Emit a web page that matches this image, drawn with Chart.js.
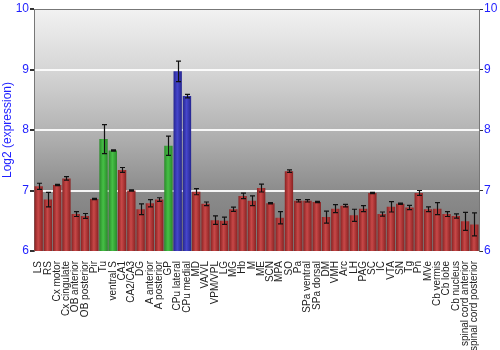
<!DOCTYPE html>
<html>
<head>
<meta charset="utf-8">
<script src="https://cdn.jsdelivr.net/npm/chart.js@4"></script>
<style>
  html, body { margin: 0; padding: 0; background: #fff; }
  #box { width: 500px; height: 350px; }
</style>
</head>
<body>
<div id="box"><canvas id="grafico"></canvas></div>
<script>
const regioes = ['LS','RS','Cx motor','Cx cingulate','OB anterior','OB posterior','Pir','Tu','ventral S','CA1',
  'CA2/CA3','DG','A anterior','A posterior','GP','CPu lateral','CPu medial','MD','VA/VL','VPM/VPL',
  'LG','MG','Hb','M','ME','SCN','MPA','SO','Pa','SPa ventral',
  'SPa dorsal','DM','VMH','Arc','LH','PAG','SC','IC','VTA','SN',
  'Tg','Pn','MVe','Cb vermis','Cb lobe','Cb nucleus','spinal cord anterior','spinal cord posterior'];
const medias = [7.07,6.85,7.09,7.20,6.61,6.58,6.86,7.85,7.66,7.34,
  7.00,6.69,6.79,6.85,7.74,8.97,8.56,6.98,6.78,6.51,
  6.50,6.69,6.91,6.83,7.04,6.79,6.55,7.32,6.83,6.83,
  6.81,6.56,6.70,6.75,6.59,6.70,6.96,6.61,6.73,6.78,
  6.72,6.96,6.69,6.70,6.61,6.58,6.49,6.44];
const erros = [0.05,0.12,0.01,0.03,0.04,0.04,0.01,0.24,0.01,0.04,
  0.01,0.09,0.06,0.03,0.16,0.17,0.03,0.05,0.03,0.07,
  0.06,0.035,0.045,0.08,0.065,0.01,0.10,0.02,0.02,0.02,
  0.01,0.10,0.065,0.02,0.10,0.05,0.01,0.035,0.085,0.01,
  0.035,0.04,0.04,0.10,0.04,0.035,0.15,0.19];
const verdes = ['Tu','ventral S','GP'];
const azuis = ['CPu lateral','CPu medial'];
const ticksY = [6,7,8,9,10];

const azulTexto = '#1f1fff';
const fonte = '"Liberation Sans", Arial, sans-serif';

function coresBarra(nome) {
  if (verdes.includes(nome)) return ['#2a8a2a', '#46c046'];
  if (azuis.includes(nome)) return ['#26268f', '#4646cc'];
  return ['#8a2222', '#c84848'];
}

function corBarra(ctx) {
  const chart = ctx.chart;
  const par = coresBarra(regioes[ctx.dataIndex]);
  if (!chart.chartArea || !chart.scales.x) return par[1];
  const xs = chart.scales.x;
  const x = xs.getPixelForValue(ctx.dataIndex);
  const w = xs.width / regioes.length * 0.9;
  const g = chart.ctx.createLinearGradient(x - w / 2, 0, x + w / 2, 0);
  g.addColorStop(0, par[0]);
  g.addColorStop(0.45, par[1]);
  g.addColorStop(1, par[0]);
  return g;
}

// fundo em degradê da área do gráfico
const fundo = {
  id: 'fundo',
  beforeDraw(chart) {
    const { ctx, chartArea: a } = chart;
    const g = ctx.createLinearGradient(0, a.top, 0, a.bottom);
    g.addColorStop(0, '#f2f2f2');
    g.addColorStop(0.25, '#d6d6d6');
    g.addColorStop(0.5, '#b4b4b4');
    g.addColorStop(0.75, '#8c8c8c');
    g.addColorStop(1, '#777777');
    ctx.save();
    ctx.fillStyle = g;
    ctx.fillRect(a.left, a.top, a.right - a.left, a.bottom - a.top);
    ctx.restore();
  },
  beforeDatasetsDraw(chart) {
    const { ctx, chartArea: a } = chart;
    ctx.save();
    ctx.strokeStyle = '#777';
    ctx.lineWidth = 1;
    ctx.beginPath();
    ctx.moveTo(a.left, a.top + 0.5);
    ctx.lineTo(a.right, a.top + 0.5);
    ctx.stroke();
    ctx.restore();
  }
};

// barras de erro
const barrasErro = {
  id: 'barrasErro',
  afterDatasetsDraw(chart) {
    const { ctx } = chart;
    const ys = chart.scales.y;
    const meta = chart.getDatasetMeta(0);
    ctx.save();
    ctx.strokeStyle = '#111';
    ctx.lineWidth = 1.2;
    meta.data.forEach((bar, i) => {
      const x = Math.round(bar.x) + 0.5;
      const y1 = ys.getPixelForValue(medias[i] + erros[i]);
      const y2 = ys.getPixelForValue(medias[i] - erros[i]);
      ctx.beginPath();
      ctx.moveTo(x, y1); ctx.lineTo(x, y2);
      ctx.moveTo(x - 2.5, y1); ctx.lineTo(x + 2.5, y1);
      ctx.moveTo(x - 2.5, y2); ctx.lineTo(x + 2.5, y2);
      ctx.stroke();
    });
    ctx.restore();
  }
};

const ctx = document.getElementById('grafico').getContext('2d');
new Chart(ctx, {
  type: 'bar',
  data: {
    labels: regioes,
    datasets: [{
      label: 'Log2 (expression)',
      data: medias,
      backgroundColor: corBarra,
      borderWidth: 0,
      barPercentage: 0.9,
      categoryPercentage: 1.0
    }]
  },
  options: {
    responsive: true,
    maintainAspectRatio: false,
    animation: false,
    layout: { padding: { top: 9, left: 0, right: 0, bottom: 0 } },
    plugins: { legend: { display: false }, tooltip: { enabled: false } },
    scales: {
      x: {
        grid: { display: false },
        border: { display: false },
        ticks: {
          autoSkip: false, minRotation: 90, maxRotation: 90, padding: 2,
          color: '#222', font: { family: fonte, size: 10 }
        },
        afterFit: s => { s.height = 99; }
      },
      y: {
        position: 'left',
        min: 6, max: 10,
        afterBuildTicks: s => { s.ticks = ticksY.map(v => ({ value: v })); },
        grid: {
          color: c => (c.tick && (c.tick.value === 6 || c.tick.value === 10)) ? 'rgba(0,0,0,0)' : 'rgba(255,255,255,0.9)',
          lineWidth: 2, tickColor: '#333', tickLength: 4
        },
        border: { display: true, color: '#777', width: 1 },
        ticks: { color: azulTexto, padding: 1, font: { family: fonte, size: 12 } },
        title: { display: true, text: 'Log2 (expression)', color: azulTexto, padding: 0, font: { family: fonte, size: 12 } },
        afterFit: s => { s.width = 34; }
      },
      y2: {
        position: 'right',
        min: 6, max: 10,
        afterBuildTicks: s => { s.ticks = ticksY.map(v => ({ value: v })); },
        grid: { drawOnChartArea: false, tickColor: '#333', tickLength: 4 },
        border: { display: true, color: '#777', width: 1 },
        ticks: { color: azulTexto, padding: 1, font: { family: fonte, size: 12 } },
        afterFit: s => { s.width = 21; }
      }
    }
  },
  plugins: [fundo, barrasErro]
});
</script>
</body>
</html>
